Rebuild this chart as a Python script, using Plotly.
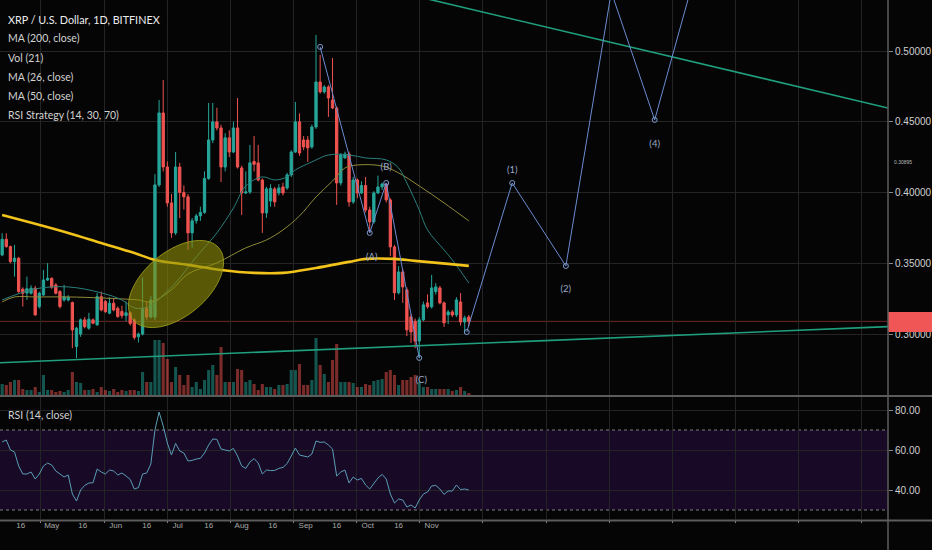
import numpy as np
import pandas as pd
import plotly.graph_objects as go

# ---------------- data ----------------
dates = pd.date_range('2018-04-07', periods=114, freq='2D')

open_ = [.3559, .3670, .3618, .3512, .3536, .3317, .3290, .3288, .3324, .3194,
         .3276, .3382, .3394, .3347, .3300, .3241, .3241, .3222, .2911, .3000,
         .3100, .3041, .3100, .3064, .3264, .3229, .3147, .3218, .3182, .3160,
         .3130, .3150, .3100, .2980, .3000, .3180, .3120, .3120, .4054, .4563,
         .4181, .3927, .3715, .4181, .4000, .3970, .3715, .3800, .3835, .3860,
         .4100, .4372, .4500, .4457, .4181, .4387, .4287, .4457, .4174, .3997,
         .4005, .4220, .4210, .4089, .3856, .3940, .4026, .3997, .4040, .4033,
         .4125, .4287, .4500, .4372, .4372, .4323, .4464, .4782, .4712, .4747,
         .4655, .4598, .4068, .4245, .4273, .3934, .4089, .3997, .4050, .3877,
         .3793, .3997, .4040, .4060, .3948, .3616, .3291, .3439, .3312, .3121,
         .3090, .2950, .3100, .3220, .3192, .3300, .3326, .3220, .3135, .3156,
         .3135, .3227, .3085, .3120]
high = [.3712, .3712, .3625, .3630, .3545, .3330, .3406, .3345, .3340, .3300,
        .3453, .3501, .3400, .3360, .3310, .3347, .3275, .3230, .3050, .3110,
        .3120, .3150, .3110, .3290, .3300, .3240, .3260, .3250, .3195, .3200,
        .3230, .3160, .3110, .3010, .3400, .3230, .3270, .4130, .4655, .4796,
        .4220, .3990, .4287, .4210, .4050, .3990, .3820, .3850, .3900, .4150,
        .4634, .4634, .4600, .4480, .4420, .4440, .4500, .4669, .4190, .4150,
        .4337, .4400, .4337, .4100, .4040, .4060, .4040, .4060, .4070, .4140,
        .4300, .4641, .4560, .4400, .4400, .4480, .5115, .4973, .4760, .4760,
        .4952, .4610, .4280, .4290, .4290, .4111, .4100, .4080, .4111, .3900,
        .4010, .4120, .4070, .4068, .3960, .3630, .3480, .3460, .3330, .3140,
        .3110, .3120, .3230, .3280, .3418, .3360, .3340, .3230, .3170, .3170,
        .3260, .3290, .3130, .3135]
low = [.3550, .3610, .3500, .3406, .3290, .3194, .3241, .3280, .3130, .3180,
       .3270, .3375, .3320, .3280, .3180, .3229, .3230, .2900, .2829, .2980,
       .3040, .3030, .3070, .3060, .3160, .3150, .3140, .3160, .3115, .3110,
       .3090, .3060, .2960, .2940, .2990, .3100, .3110, .3100, .4040, .4150,
       .3900, .3680, .3700, .3820, .3880, .3595, .3610, .3780, .3800, .3850,
       .4090, .4350, .4440, .4075, .4150, .4250, .4280, .4170, .3842, .3990,
       .3990, .4150, .4080, .3715, .3821, .3900, .3900, .3980, .3980, .4020,
       .4110, .4280, .4260, .4300, .4217, .4310, .4450, .4700, .4700, .4535,
       .4590, .3913, .4050, .4240, .3900, .3920, .3960, .3990, .3860, .3715,
       .3780, .3990, .4019, .3930, .3550, .3241, .3280, .3220, .2985, .2937,
       .2900, .2830, .3090, .3180, .3180, .3280, .3210, .3050, .3070, .3120,
       .3120, .3060, .3005, .3055]
close = [.3670, .3618, .3512, .3536, .3300, .3288, .3320, .3324, .3135, .3288,
         .3382, .3394, .3331, .3288, .3194, .3264, .3260, .3029, .3041, .3100,
         .3052, .3105, .3076, .3264, .3170, .3158, .3218, .3170, .3123, .3130,
         .3150, .3075, .2976, .3000, .3180, .3120, .3240, .4054, .4563, .4181,
         .3927, .3715, .4181, .4000, .3970, .3715, .3800, .3835, .3860, .4100,
         .4372, .4500, .4457, .4181, .4387, .4287, .4457, .4181, .3997, .4005,
         .4210, .4200, .4089, .3856, .4026, .4030, .3934, .4033, .3997, .4125,
         .4287, .4500, .4280, .4323, .4316, .4464, .4782, .4712, .4747, .4669,
         .4598, .4068, .4266, .4273, .3934, .4089, .3997, .4050, .3877, .3793,
         .3997, .4040, .4060, .3948, .3616, .3291, .3439, .3333, .3029, .3015,
         .2950, .3100, .3206, .3192, .3326, .3333, .3220, .3079, .3156, .3135,
         .3241, .3085, .3114, .30895]
volume = [11, 10, 13, 15, 15, 6, 5, 5, 8, 3, 20, 5, 5, 3, 4, 3, 5, 23, 13, 12,
          5, 5, 6, 3, 8, 5, 4, 6, 3, 5, 4, 5, 5, 4, 23, 13, 13, 55, 55, 52,
          36, 13, 28, 20, 10, 20, 8, 13, 6, 15, 25, 30, 20, 48, 13, 13, 13, 26, 25, 13,
          15, 11, 5, 11, 8, 8, 6, 10, 10, 11, 25, 25, 31, 10, 10, 15, 57, 30, 21, 13,
          35, 51, 13, 13, 13, 12, 8, 8, 11, 10, 14, 15, 16, 23, 25, 20, 10, 15, 15, 18,
          20, 13, 8, 8, 6, 6, 6, 6, 6, 4, 5, 8, 4, 2]
rsi = [64, 65, 60, 59, 52, 48, 48, 49, 45.5, 48, 52, 53.5, 52.5, 49.5, 48, 46.5,
       47.5, 38, 34.5, 40, 42.3, 43.5, 43.6, 50.5, 49, 48, 50, 49.5, 47.5, 48.5,
       47, 45.3, 40.5, 41.2, 48, 48.5, 53, 70, 79, 72, 63.5, 57.5, 63.3, 59.5,
       58.5, 54.5, 54.8, 55.5, 55.8, 58.5, 62.5, 65.5, 65.3, 60.5, 60, 59.5,
       60.8, 57, 52, 50.8, 54, 55.7, 53.5, 48, 50, 49.7, 49.8, 50.8, 51.3, 53.2,
       57, 61, 57.5, 57, 56.5, 58, 64.5, 63.8, 64, 62.5, 60.5, 47, 49, 50, 43.5,
       46.5, 45, 45.8, 42.5, 40.5, 43.5, 46, 47.8, 45.5, 38, 33.5, 35.5, 35,
       31.5, 32.5, 31, 35, 38, 39, 42, 42.3, 40.5, 37.8, 39.5, 39.5, 42.5, 40.2,
       40.5, 40]

ma200_idx = [0, 8, 16, 24, 32, 37, 45, 53, 61, 68, 76, 84, 88, 95, 100, 108, 113]
ma200_val = [.3842, .3780, .3715, .3644, .3573, .3524, .3489, .3453, .3432, .3432,
             .3467, .3510, .3531, .3531, .3517, .3496, .3482]
ma26_idx = [0, 8, 16, 24, 29, 32, 36, 39, 42, 47, 52, 56, 59, 63, 66, 69, 71, 75,
            79, 84, 88, 93, 96, 98, 101, 103, 107, 109, 113]
ma26_val = [.3241, .3319, .3333, .3291, .3241, .3184, .3198, .3276, .3361, .3545,
            .3715, .3891, .4047, .4111, .4089, .4111, .4160, .4217, .4266, .4266,
            .4245, .4231, .4174, .4068, .3877, .3736, .3595, .3524, .3361]
ma50_idx = [0, 3, 8, 16, 24, 29, 33, 36, 41, 45, 52, 59, 64, 68, 72, 76, 80, 83,
            86, 92, 96, 101, 107, 113]
ma50_val = [.3227, .3262, .3262, .3262, .3255, .3248, .3241, .3227, .3312, .3425,
            .3503, .3609, .3665, .3736, .3835, .3969, .4082, .4174, .4195, .4188,
            .4139, .4047, .3927, .3800]

# drawings
support_x = ['2018-04-05 23:00', '2019-06-10']
support_y = [.2797, .3052]
resist_x = ['2018-10-26', '2019-06-10']
resist_y = [.5383, .4598]
abc_x = ['2018-09-08', '2018-10-02', '2018-10-10', '2018-10-26']
abc_y = [.5030, .3715, .4068, .2831]
imp_x = ['2018-11-18', '2018-12-10', '2019-01-05', '2019-01-27', '2019-02-17', '2019-03-11']
imp_y = [.3014, .4068, .3481, .5419, .4514, .5673]
wave_lbl = ['(A)', '(B)', '(C)', '(1)', '(2)', '(4)']
wave_lbl_x = ['2018-10-03', '2018-10-10', '2018-10-27', '2018-12-10', '2019-01-05', '2019-02-17']
wave_lbl_y = [.3538, .4174, .2668, .4153, .3311, .4338]
last_price = 0.30895

tick_dates = ['2018-04-16', '2018-05-01', '2018-05-16', '2018-06-01', '2018-06-16',
              '2018-07-01', '2018-07-16', '2018-08-01', '2018-08-16', '2018-09-01',
              '2018-09-16', '2018-10-01', '2018-10-16', '2018-11-01']
tick_text = ['16', 'May', '16', 'Jun', '16', 'Jul', '16', 'Aug', '16', 'Sep',
             '16', 'Oct', '16', 'Nov']
price_ticks = [0.30, 0.35, 0.40, 0.45, 0.50]
rsi_ticks = [40, 60, 80]

# ---------------- styling ----------------
BG = '#050505'
GRID = '#242424'
UP = '#26a69a'
DN = '#ef5350'
FONT = 'Lato, Liberation Sans, sans-serif'
AXFONT = 'Liberation Sans, Arial, sans-serif'
W, H, PW, PH = 932, 550, 888, 520


def pp(px, py):
    return px / PW, 1 - py / PH


fig = go.Figure()

vol_colors = ['rgba(38,166,154,0.5)' if c >= o else 'rgba(239,83,80,0.5)'
              for o, c in zip(open_, close)]
fig.add_trace(go.Bar(x=dates, y=volume, marker=dict(color=vol_colors, line_width=0),
                     width=2 * 86400000 * 0.75, xaxis='x', yaxis='y', hoverinfo='skip'))

fig.add_trace(go.Scatter(x=[dates[i] for i in ma50_idx], y=ma50_val, mode='lines',
                         line=dict(color='#8f8a3a', width=1, shape='spline'),
                         xaxis='x', yaxis='y3', hoverinfo='skip'))
fig.add_trace(go.Scatter(x=[dates[i] for i in ma26_idx], y=ma26_val, mode='lines',
                         line=dict(color='#2a7f7c', width=1, shape='spline'),
                         xaxis='x', yaxis='y3', hoverinfo='skip'))
fig.add_trace(go.Scatter(x=[dates[i] for i in ma200_idx], y=ma200_val, mode='lines',
                         line=dict(color='#f2c31b', width=2.6, shape='spline'),
                         xaxis='x', yaxis='y3', hoverinfo='skip'))

fig.add_trace(go.Candlestick(x=dates, open=open_, high=high, low=low, close=close,
                             increasing=dict(line=dict(color=UP, width=1), fillcolor=UP),
                             decreasing=dict(line=dict(color=DN, width=1), fillcolor=DN),
                             whiskerwidth=0, xaxis='x', yaxis='y3', hoverinfo='skip'))

for xs, ys in ((support_x, support_y), (resist_x, resist_y)):
    fig.add_trace(go.Scatter(x=xs, y=ys, mode='lines', line=dict(color='#1f9f7d', width=1.6),
                             xaxis='x', yaxis='y3', hoverinfo='skip'))
for xs, ys in ((abc_x, abc_y), (imp_x, imp_y)):
    fig.add_trace(go.Scatter(x=xs, y=ys, mode='lines+markers',
                             line=dict(color='#6a8cd0', width=1),
                             marker=dict(symbol='circle-open', size=5, color='#7f9ad0'),
                             xaxis='x', yaxis='y3', hoverinfo='skip'))
fig.add_trace(go.Scatter(x=wave_lbl_x, y=wave_lbl_y, mode='text', text=wave_lbl,
                         textfont=dict(family=FONT, size=9.5, color='#98a8c8'),
                         xaxis='x', yaxis='y3', hoverinfo='skip'))

fig.add_trace(go.Scatter(x=dates, y=rsi, mode='lines', line=dict(color='#5a9db5', width=1),
                         xaxis='x2', yaxis='y2', hoverinfo='skip'))

xrange = ['2018-04-05 23:00', '2019-06-10']
minor_grid = dict(tick0='2018-04-25 19:12', dtick=30.58 * 86400000, showgrid=True,
                  gridcolor=GRID, gridwidth=1)

fig.update_layout(
    width=W, height=H, margin=dict(l=0, r=W - PW, t=0, b=H - PH, autoexpand=False),
    paper_bgcolor=BG, plot_bgcolor=BG, showlegend=False, boxgap=0.2,
    font=dict(family=FONT, color='#c8c8c8'), hovermode=False,
    xaxis=dict(type='date', range=xrange, domain=[0, 1], anchor='y', automargin=False,
               tickmode='array', tickvals=tick_dates, showticklabels=False,
               showgrid=False, ticks='', zeroline=False,
               minor=dict(**minor_grid, ticks=''), rangeslider=dict(visible=False)),
    xaxis2=dict(type='date', range=xrange, domain=[0, 1], anchor='y2', matches='x',
                automargin=False,
                tickmode='array', tickvals=tick_dates, ticktext=tick_text,
                tickfont=dict(size=8, color='#a8a8a8', family=AXFONT),
                showgrid=False, ticks='', zeroline=False,
                minor=dict(**minor_grid, ticks='outside', ticklen=3, tickcolor='#888'),
                rangeslider=dict(visible=False)),
    yaxis=dict(domain=[125 / PH, 1], range=[0, 395], showticklabels=False, automargin=False,
               showgrid=False, zeroline=False, fixedrange=True),
    yaxis3=dict(overlaying='y', side='right', anchor='x', automargin=False,
                range=[0.25687, 0.53618], tickmode='array', tickvals=price_ticks,
                ticktext=[f'{v:.5f}' for v in price_ticks],
                tickfont=dict(size=10, color='#d0d0d0', family=AXFONT),
                showgrid=True, gridcolor=GRID, zeroline=False,
                ticks='outside', ticklen=4, tickcolor='#888'),
    yaxis2=dict(domain=[1 / PH, 123 / PH], range=[25.5, 86.5], side='right',
                anchor='x2', automargin=False, tickmode='array', tickvals=rsi_ticks,
                ticktext=[f'{v:.2f}' for v in rsi_ticks],
                tickfont=dict(size=10, color='#d0d0d0', family=AXFONT),
                showgrid=True, gridcolor=GRID, zeroline=False,
                ticks='outside', ticklen=4, tickcolor='#888'),
)

shapes = []
# RSI band and bounds
shapes.append(dict(type='rect', xref='paper', yref='y2', x0=0, x1=1, y0=30, y1=70,
                   fillcolor='#180a26', line_width=0, layer='below'))
for lv in (30, 70):
    shapes.append(dict(type='line', xref='paper', yref='y2', x0=0, x1=1, y0=lv, y1=lv,
                       line=dict(color='#808080', width=1, dash='dot'), layer='below'))
# current price line
shapes.append(dict(type='line', xref='paper', yref='y3', x0=0, x1=1, y0=last_price,
                   y1=last_price, line=dict(color='#6e2a2a', width=1), layer='below'))
# price tag
shapes.append(dict(type='rect', xref='paper', yref='y3', x0=1.0, x1=W / PW,
                   y0=.3014, y1=.3156, fillcolor='#f05656', line_width=0, layer='above'))
# pane separators and price-axis border
for py in (396, 520.5):
    shapes.append(dict(type='line', xref='paper', yref='paper', x0=0, x1=W / PW,
                       y0=1 - py / PH, y1=1 - py / PH,
                       line=dict(color='#5c5c5c', width=2), layer='above'))
shapes.append(dict(type='line', xref='paper', yref='paper', x0=1, x1=1, y0=1 - H / PH, y1=1,
                   line=dict(color='#5c5c5c', width=1.5), layer='above'))
# highlighted ellipse (pixel geometry)
cx, cy, a, b, th = 176, 284, 56, 32, np.radians(40)
t = np.linspace(0, 2 * np.pi, 73)
ex = cx + a * np.cos(t) * np.cos(th) - b * np.sin(t) * np.sin(th)
ey = cy - (a * np.cos(t) * np.sin(th) + b * np.sin(t) * np.cos(th))
path = 'M ' + ' L '.join(f'{x / PW:.5f},{1 - y / PH:.5f}' for x, y in zip(ex, ey)) + ' Z'
shapes.append(dict(type='path', xref='paper', yref='paper', path=path,
                   fillcolor='rgba(140,140,10,0.62)', line=dict(color='rgba(165,165,30,0.8)', width=1),
                   layer='above'))
fig.update_layout(shapes=shapes)

ann = []
legend_rows = [('XRP / U.S. Dollar, 1D, BITFINEX', 20, 10.8, '#ececec'),
               ('MA (200, close)', 38.5, 10.5, '#d2d2d2'),
               ('Vol (21)', 57.5, 10.5, '#d2d2d2'),
               ('MA (26, close)', 76.5, 10.5, '#d2d2d2'),
               ('MA (50, close)', 95.5, 10.5, '#d2d2d2'),
               ('RSI Strategy (14, 30, 70)', 114.5, 10.5, '#d2d2d2'),
               ('RSI (14, close)', 415, 10.5, '#d2d2d2')]
for txt, py, sz, col in legend_rows:
    x0, y0 = pp(6, py)
    ann.append(dict(text=txt, x=x0, y=y0, xref='paper', yref='paper', xanchor='left',
                    yanchor='middle', showarrow=False,
                    font=dict(family=FONT, size=sz, color=col)))
x0, y0 = pp(892, 162)
ann.append(dict(text=f'{last_price:.5f}', x=x0, y=y0, xref='paper', yref='paper',
                xanchor='left', yanchor='middle', showarrow=False,
                font=dict(family=AXFONT, size=5, color='#bbbbbb')))
fig.update_layout(annotations=ann)

fig.write_html('out.html', config={'displayModeBar': False, 'staticPlot': True},
               post_script="document.body.style.margin='0';document.body.style.padding='0';"
                           "document.body.style.background='#050505';")
